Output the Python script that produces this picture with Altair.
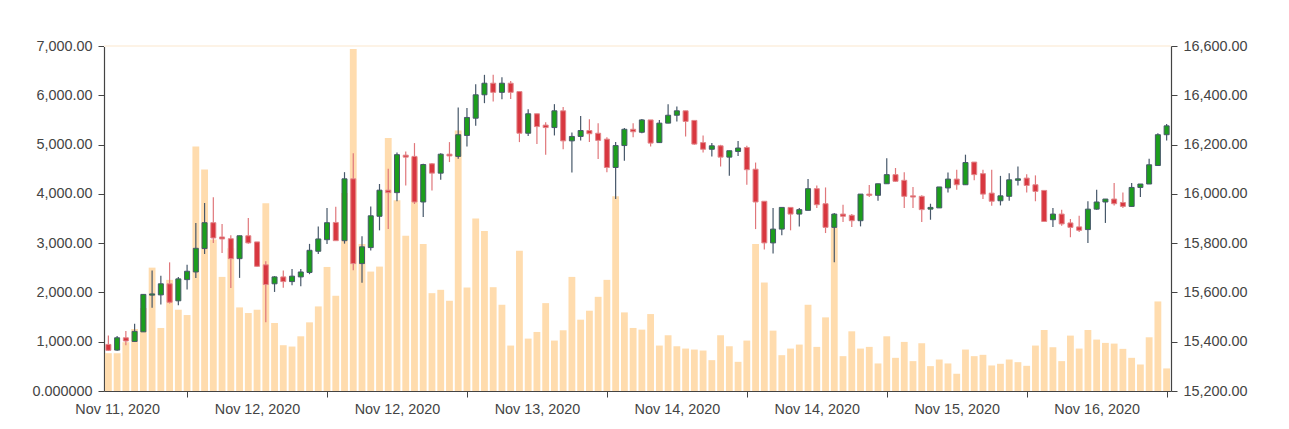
import altair as alt
import pandas as pd

opens = [15389, 15366, 15416, 15401, 15440, 15589, 15590, 15635, 15566, 15652,
         15683, 15778, 15883, 15825, 15818, 15737, 15830, 15805, 15712, 15635,
         15663, 15644, 15663, 15681, 15767, 15814, 15884, 15810, 16061, 15717,
         15782, 15909, 16015, 16005, 16157, 16152, 15967, 16122, 16084, 16161,
         16152, 16237, 16307, 16402, 16449, 16412, 16449, 16415, 16246, 16325,
         16279, 16269, 16337, 16215, 16233, 16257, 16246, 16222, 16107, 16196,
         16262, 16250, 16300, 16208, 16287, 16319, 16337, 16298, 16208, 16181,
         16195, 16149, 16172, 16188, 16100, 15970, 15801, 15857, 15945, 15918,
         15933, 16021, 15960, 15864, 15918, 15913, 15891, 15999, 15994, 16041,
         16078, 16055, 15992, 15990, 15938, 15943, 16024, 16060, 16037, 16129,
         16082, 16003, 15972, 15990, 16055, 16064, 16037, 16014, 15895, 15918,
         15882, 15866, 15855, 15938, 15967, 15979, 15965, 15949, 16026, 16040,
         16115, 16240]
highs = [15425, 15423, 15443, 15473, 15592, 15689, 15668, 15722, 15663, 15712,
         15882, 15963, 15986, 15878, 15832, 15830, 15902, 15805, 15727, 15666,
         15689, 15695, 15695, 15797, 15868, 15943, 15948, 16088, 16165, 15828,
         15949, 16040, 16102, 16168, 16172, 16206, 16122, 16125, 16165, 16210,
         16350, 16348, 16445, 16483, 16483, 16473, 16458, 16415, 16343, 16325,
         16291, 16364, 16352, 16249, 16316, 16303, 16287, 16230, 16210, 16267,
         16287, 16304, 16300, 16300, 16364, 16354, 16337, 16298, 16237, 16206,
         16199, 16175, 16215, 16195, 16127, 15970, 15943, 15945, 15945, 15943,
         16060, 16034, 16026, 15922, 15956, 15918, 15999, 16036, 16041, 16145,
         16105, 16088, 16028, 15994, 15960, 16028, 16087, 16098, 16159, 16129,
         16098, 16098, 16073, 16084, 16111, 16080, 16075, 16014, 15943, 15936,
         15898, 15911, 15970, 16017, 15979, 16044, 16006, 16044, 16040, 16142,
         16246, 16283]
lows = [15362, 15363, 15386, 15400, 15440, 15538, 15551, 15555, 15548, 15612,
        15659, 15756, 15801, 15760, 15618, 15659, 15798, 15704, 15479, 15602,
        15619, 15629, 15625, 15674, 15756, 15797, 15810, 15798, 15690, 15639,
        15770, 15852, 15857, 15970, 16034, 15959, 15906, 16014, 16057, 16129,
        16142, 16192, 16276, 16368, 16375, 16384, 16385, 16210, 16235, 16202,
        16159, 16237, 16181, 16087, 16217, 16210, 16141, 16088, 15979, 16134,
        16230, 16246, 16192, 16206, 16287, 16294, 16233, 16199, 16168, 16152,
        16111, 16073, 16154, 16037, 15857, 15774, 15758, 15832, 15852, 15868,
        15933, 15943, 15841, 15722, 15886, 15866, 15868, 15987, 15972, 16041,
        16048, 15943, 15943, 15886, 15895, 15943, 16006, 16017, 16037, 16055,
        15979, 15952, 15953, 15972, 16034, 16006, 15970, 15888, 15866, 15871,
        15824, 15845, 15801, 15936, 15882, 15953, 15943, 15949, 15987, 16040,
        16115, 16217]
closes = [15365, 15416, 15403, 15442, 15592, 15594, 15635, 15560, 15655, 15686,
          15779, 15883, 15821, 15817, 15737, 15830, 15801, 15706, 15632, 15663,
          15644, 15666, 15683, 15771, 15817, 15883, 15810, 16061, 15717, 15785,
          15911, 16015, 16005, 16159, 16149, 15967, 16119, 16084, 16161, 16154,
          16240, 16310, 16402, 16449, 16412, 16449, 16412, 16246, 16325, 16273,
          16269, 16337, 16215, 16233, 16257, 16244, 16217, 16107, 16196, 16262,
          16252, 16300, 16206, 16287, 16319, 16337, 16294, 16202, 16181, 16195,
          16149, 16175, 16186, 16098, 15967, 15801, 15857, 15945, 15918, 15936,
          16021, 15956, 15864, 15918, 15909, 15891, 15999, 15994, 16041, 16078,
          16051, 15990, 15987, 15936, 15945, 16028, 16060, 16037, 16127, 16078,
          15999, 15970, 15992, 16057, 16061, 16034, 16010, 15888, 15918, 15878,
          15864, 15852, 15938, 15967, 15979, 15960, 15949, 16026, 16040, 16118,
          16240, 16276]
volumes = [767, 767, 990, 1258, 1683, 2503, 1279, 2255, 1649, 1541,
           4960, 4496, 3075, 2315, 2894, 1696, 1582, 1649, 3809, 1380,
           929, 902, 1110, 1393, 1716, 2517, 1932, 4018, 6940, 2981,
           2423, 2524, 5135, 3870, 3150, 4745, 2981, 1985, 2053, 1831,
           5283, 2100, 3500, 3244, 2106, 1750, 922, 2847, 1063, 1198,
           1783, 1023, 1232, 2315, 1447, 1629, 1911, 2255, 3950, 1595,
           1279, 1245, 1561, 922, 1131, 908, 861, 841, 821, 626,
           1131, 908, 592, 1023, 2981, 2201, 1225, 727, 861, 942,
           1750, 895, 1494, 3318, 707, 1211, 861, 895, 559, 1110,
           673, 996, 606, 969, 505, 639, 559, 350, 841, 707,
           734, 518, 552, 639, 585, 511, 922, 1238, 888, 606,
           1124, 861, 1238, 1043, 976, 962, 855, 673, 538, 1090,
           1817, 458]

tick_idx = [9, 25, 41, 57, 73, 89, 105, 121]
tick_labels = ["Nov 11, 2020", "Nov 12, 2020", "Nov 12, 2020", "Nov 13, 2020",
               "Nov 14, 2020", "Nov 14, 2020", "Nov 15, 2020", "Nov 16, 2020"]
vol_ticks = [0, 1000, 2000, 3000, 4000, 5000, 6000, 7000]
price_ticks = [15200, 15400, 15600, 15800, 16000, 16200, 16400, 16600]

n = len(opens)
df = pd.DataFrame({
    "i": list(range(n)),
    "open": opens, "high": highs, "low": lows, "close": closes,
    "volume": volumes,
})

W = 1067
H = 345
STEP = W / n

label_expr = "''"
for v, lab in reversed(list(zip(tick_idx, tick_labels))):
    label_expr = f"datum.value == {v} ? '{lab}' : ({label_expr})"

x_enc = alt.X(
    "i:Q",
    scale=alt.Scale(domain=[-0.5, n - 0.5], nice=False, zero=False, padding=0),
    axis=alt.Axis(values=tick_idx, labelExpr=label_expr, labelOffset=-8 * STEP,
                  title=None, grid=False, tickSize=6, labelPadding=5,
                  labelOverlap=False, labelFlush=False, labelBound=False),
)

UP = "#1c9e1c"
UP_STROKE = "#47586a"
DOWN = "#d8373f"
DOWN_WICK = "#e0777b"
VOL = "#ffdcae"

up_cond = "datum.close >= datum.open"

volume = alt.Chart(df).mark_bar(size=STEP * 0.78, color=VOL).encode(
    x=x_enc,
    y=alt.Y("volume:Q", scale=alt.Scale(domain=[0, 7000], nice=False),
            axis=alt.Axis(orient="left", values=vol_ticks, title=None, grid=False,
                          tickSize=6, labelPadding=6,
                          labelExpr="datum.value == 0 ? '0.000000' : format(datum.value, ',.2f')")),
)

top_line = alt.Chart(df).mark_rule(color="#fdf3e6", strokeWidth=2).encode(
    x=alt.value(0), x2=alt.value(W), y=alt.value(0)
)

price_y = alt.Y("low:Q", scale=alt.Scale(domain=[15200, 16600], nice=False, zero=False),
                axis=alt.Axis(orient="right", values=price_ticks, format=",.2f", title=None,
                              grid=False, tickSize=6, labelPadding=6))

wick = alt.Chart(df).mark_rule(strokeWidth=1.2).encode(
    x=x_enc,
    y=price_y,
    y2="high:Q",
    color=alt.condition(up_cond, alt.value(UP_STROKE), alt.value(DOWN_WICK)),
)

body = alt.Chart(df).mark_bar(size=5, strokeWidth=1).encode(
    x=x_enc,
    y=alt.Y("open:Q"),
    y2="close:Q",
    fill=alt.condition(up_cond, alt.value(UP), alt.value(DOWN)),
    stroke=alt.condition(up_cond, alt.value(UP_STROKE), alt.value("#e2868a")),
)

price = alt.layer(wick, body)

chart = alt.layer(top_line, volume, price).resolve_scale(y="independent").properties(
    width=W, height=H,
    autosize=alt.AutoSizeParams(type="none"),
    padding={"left": 96, "top": 38, "right": 96, "bottom": 28},
).configure_view(stroke=None).configure_axis(
    labelFont="Liberation Sans", labelFontSize=14.4, labelColor="#444444",
    domainColor="#444444", tickColor="#444444", domainWidth=1.2,
)

chart.save("out.html", embed_options={"renderer": "svg", "actions": False})
